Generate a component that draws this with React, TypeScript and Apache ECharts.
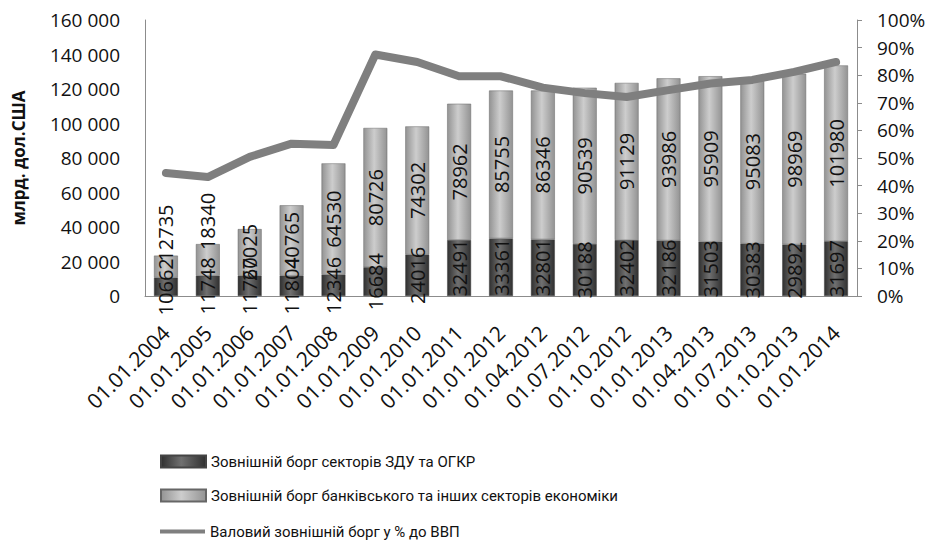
import React, { useEffect, useRef } from "react";
import * as echarts from "echarts";

const categories = [
  "01.01.2004", "01.01.2005", "01.01.2006", "01.01.2007", "01.01.2008", "01.01.2009",
  "01.01.2010", "01.01.2011", "01.01.2012", "01.04.2012", "01.07.2012", "01.10.2012",
  "01.01.2013", "01.04.2013", "01.07.2013", "01.10.2013", "01.01.2014",
];
const govDebt = [10662, 11748, 11760, 11804, 12346, 16684, 24016, 32491, 33361, 32801, 30188, 32402, 32186, 31503, 30383, 29892, 31697];
const otherDebt = [12735, 18340, 27025, 40765, 64530, 80726, 74302, 78962, 85755, 86346, 90539, 91129, 93986, 95909, 95083, 98969, 101980];
const debtToGdp = [44.6, 43.1, 50.4, 55.2, 54.7, 87.5, 84.8, 79.6, 79.6, 75.5, 73.5, 72.1, 74.6, 77.0, 78.3, 81.2, 84.8];
const seriesNames = [
  "Зовнішній борг секторів ЗДУ та ОГКР",
  "Зовнішній борг банківського та інших секторів економіки",
  "Валовий зовнішній борг у % до ВВП",
];
const leftAxisName = "млрд. дол.США";

const FONT = "Open Sans";
const LEGEND_FONT = "Roboto";

function fmtThousands(v: number): string {
  return String(Math.round(v)).replace(/\B(?=(\d{3})+(?!\d))/g, " ");
}

export default function App() {
  const ref = useRef<HTMLDivElement>(null);
  useEffect(() => {
    if (!ref.current) return;
    const chart = echarts.init(ref.current, null, { renderer: "svg" });
    const darkGrad = new echarts.graphic.LinearGradient(0, 0, 1, 0, [
      { offset: 0, color: "#303030" },
      { offset: 0.45, color: "#707070" },
      { offset: 1, color: "#303030" },
    ]);
    const lightGrad = new echarts.graphic.LinearGradient(0, 0, 1, 0, [
      { offset: 0, color: "#939393" },
      { offset: 0.45, color: "#cdcdcd" },
      { offset: 1, color: "#939393" },
    ]);
    const labelCommon = {
      show: true,
      position: "inside" as const,
      rotate: 90,
      color: "#111",
      fontFamily: FONT,
      fontSize: 20,
    };
    const legendText = { fontFamily: LEGEND_FONT, fontSize: 15, color: "#111" };
    chart.setOption({
      animation: false,
      textStyle: { fontFamily: FONT },
      grid: { left: 145, right: 76, top: 20, bottom: 259, containLabel: false },
      legend: [
        {
          orient: "vertical",
          left: 155,
          top: 449,
          itemGap: 19,
          itemWidth: 45,
          itemHeight: 12,
          icon: "rect",
          textStyle: legendText,
          data: [seriesNames[0], seriesNames[1]],
        },
        {
          orient: "vertical",
          left: 155,
          top: 519,
          itemWidth: 45,
          itemHeight: 4,
          icon: "rect",
          textStyle: legendText,
          data: [seriesNames[2]],
        },
      ],
      xAxis: {
        type: "category",
        data: categories,
        axisLine: { lineStyle: { color: "#8c8c8c", width: 1 } },
        axisTick: { show: false },
        axisLabel: {
          rotate: 45,
          margin: 33,
          interval: 0,
          color: "#111",
          fontFamily: FONT,
          fontSize: 21,
        },
      },
      yAxis: [
        {
          type: "value",
          min: 0,
          max: 160000,
          interval: 20000,
          name: leftAxisName,
          nameLocation: "middle",
          nameGap: 118,
          nameRotate: 90,
          nameTextStyle: { fontFamily: FONT, fontSize: 17, fontWeight: "bold", color: "#111" },
          splitLine: { show: false },
          axisLine: { show: true, lineStyle: { color: "#8c8c8c" } },
          axisTick: { show: false },
          axisLabel: {
            margin: 25,
            color: "#111",
            fontFamily: FONT,
            fontSize: 19,
            formatter: (v: number) => fmtThousands(v),
          },
        },
        {
          type: "value",
          min: 0,
          max: 100,
          interval: 10,
          position: "right",
          splitLine: { show: false },
          axisLine: { show: true, lineStyle: { color: "#8c8c8c" } },
          axisTick: { show: true, length: 5, lineStyle: { color: "#8c8c8c" } },
          axisLabel: {
            margin: 20,
            color: "#111",
            fontFamily: FONT,
            fontSize: 19,
            formatter: "{value}%",
          },
        },
      ],
      series: [
        {
          name: seriesNames[0],
          type: "bar",
          stack: "debt",
          barWidth: "57%",
          data: govDebt,
          itemStyle: { color: darkGrad, borderColor: "#444", borderWidth: 0.5 },
          label: { ...labelCommon },
          z: 2,
        },
        {
          name: seriesNames[1],
          type: "bar",
          stack: "debt",
          barWidth: "57%",
          data: otherDebt,
          itemStyle: { color: lightGrad, borderColor: "#666", borderWidth: 0.5 },
          label: { ...labelCommon },
          labelLayout: (p: any) => {
            const r = p.rect;
            const lr = p.labelRect;
            if (!r || !lr) return {};
            if (r.height < 40) {
              // label is rotated 90°, so its local x axis points up on screen
              const screenDy = r.y + 6 - (lr.y + lr.height);
              return { dx: -screenDy };
            }
            return {};
          },
          z: 2,
        },
        {
          name: seriesNames[2],
          type: "line",
          yAxisIndex: 1,
          data: debtToGdp,
          symbol: "none",
          lineStyle: { color: "#7f7f7f", width: 8, cap: "round", join: "round" },
          itemStyle: { color: "#7f7f7f" },
          z: 5,
        },
      ],
    });
    return () => chart.dispose();
  }, []);
  return <div ref={ref} style={{ width: 933, height: 555, margin: -8 }} />;
}
